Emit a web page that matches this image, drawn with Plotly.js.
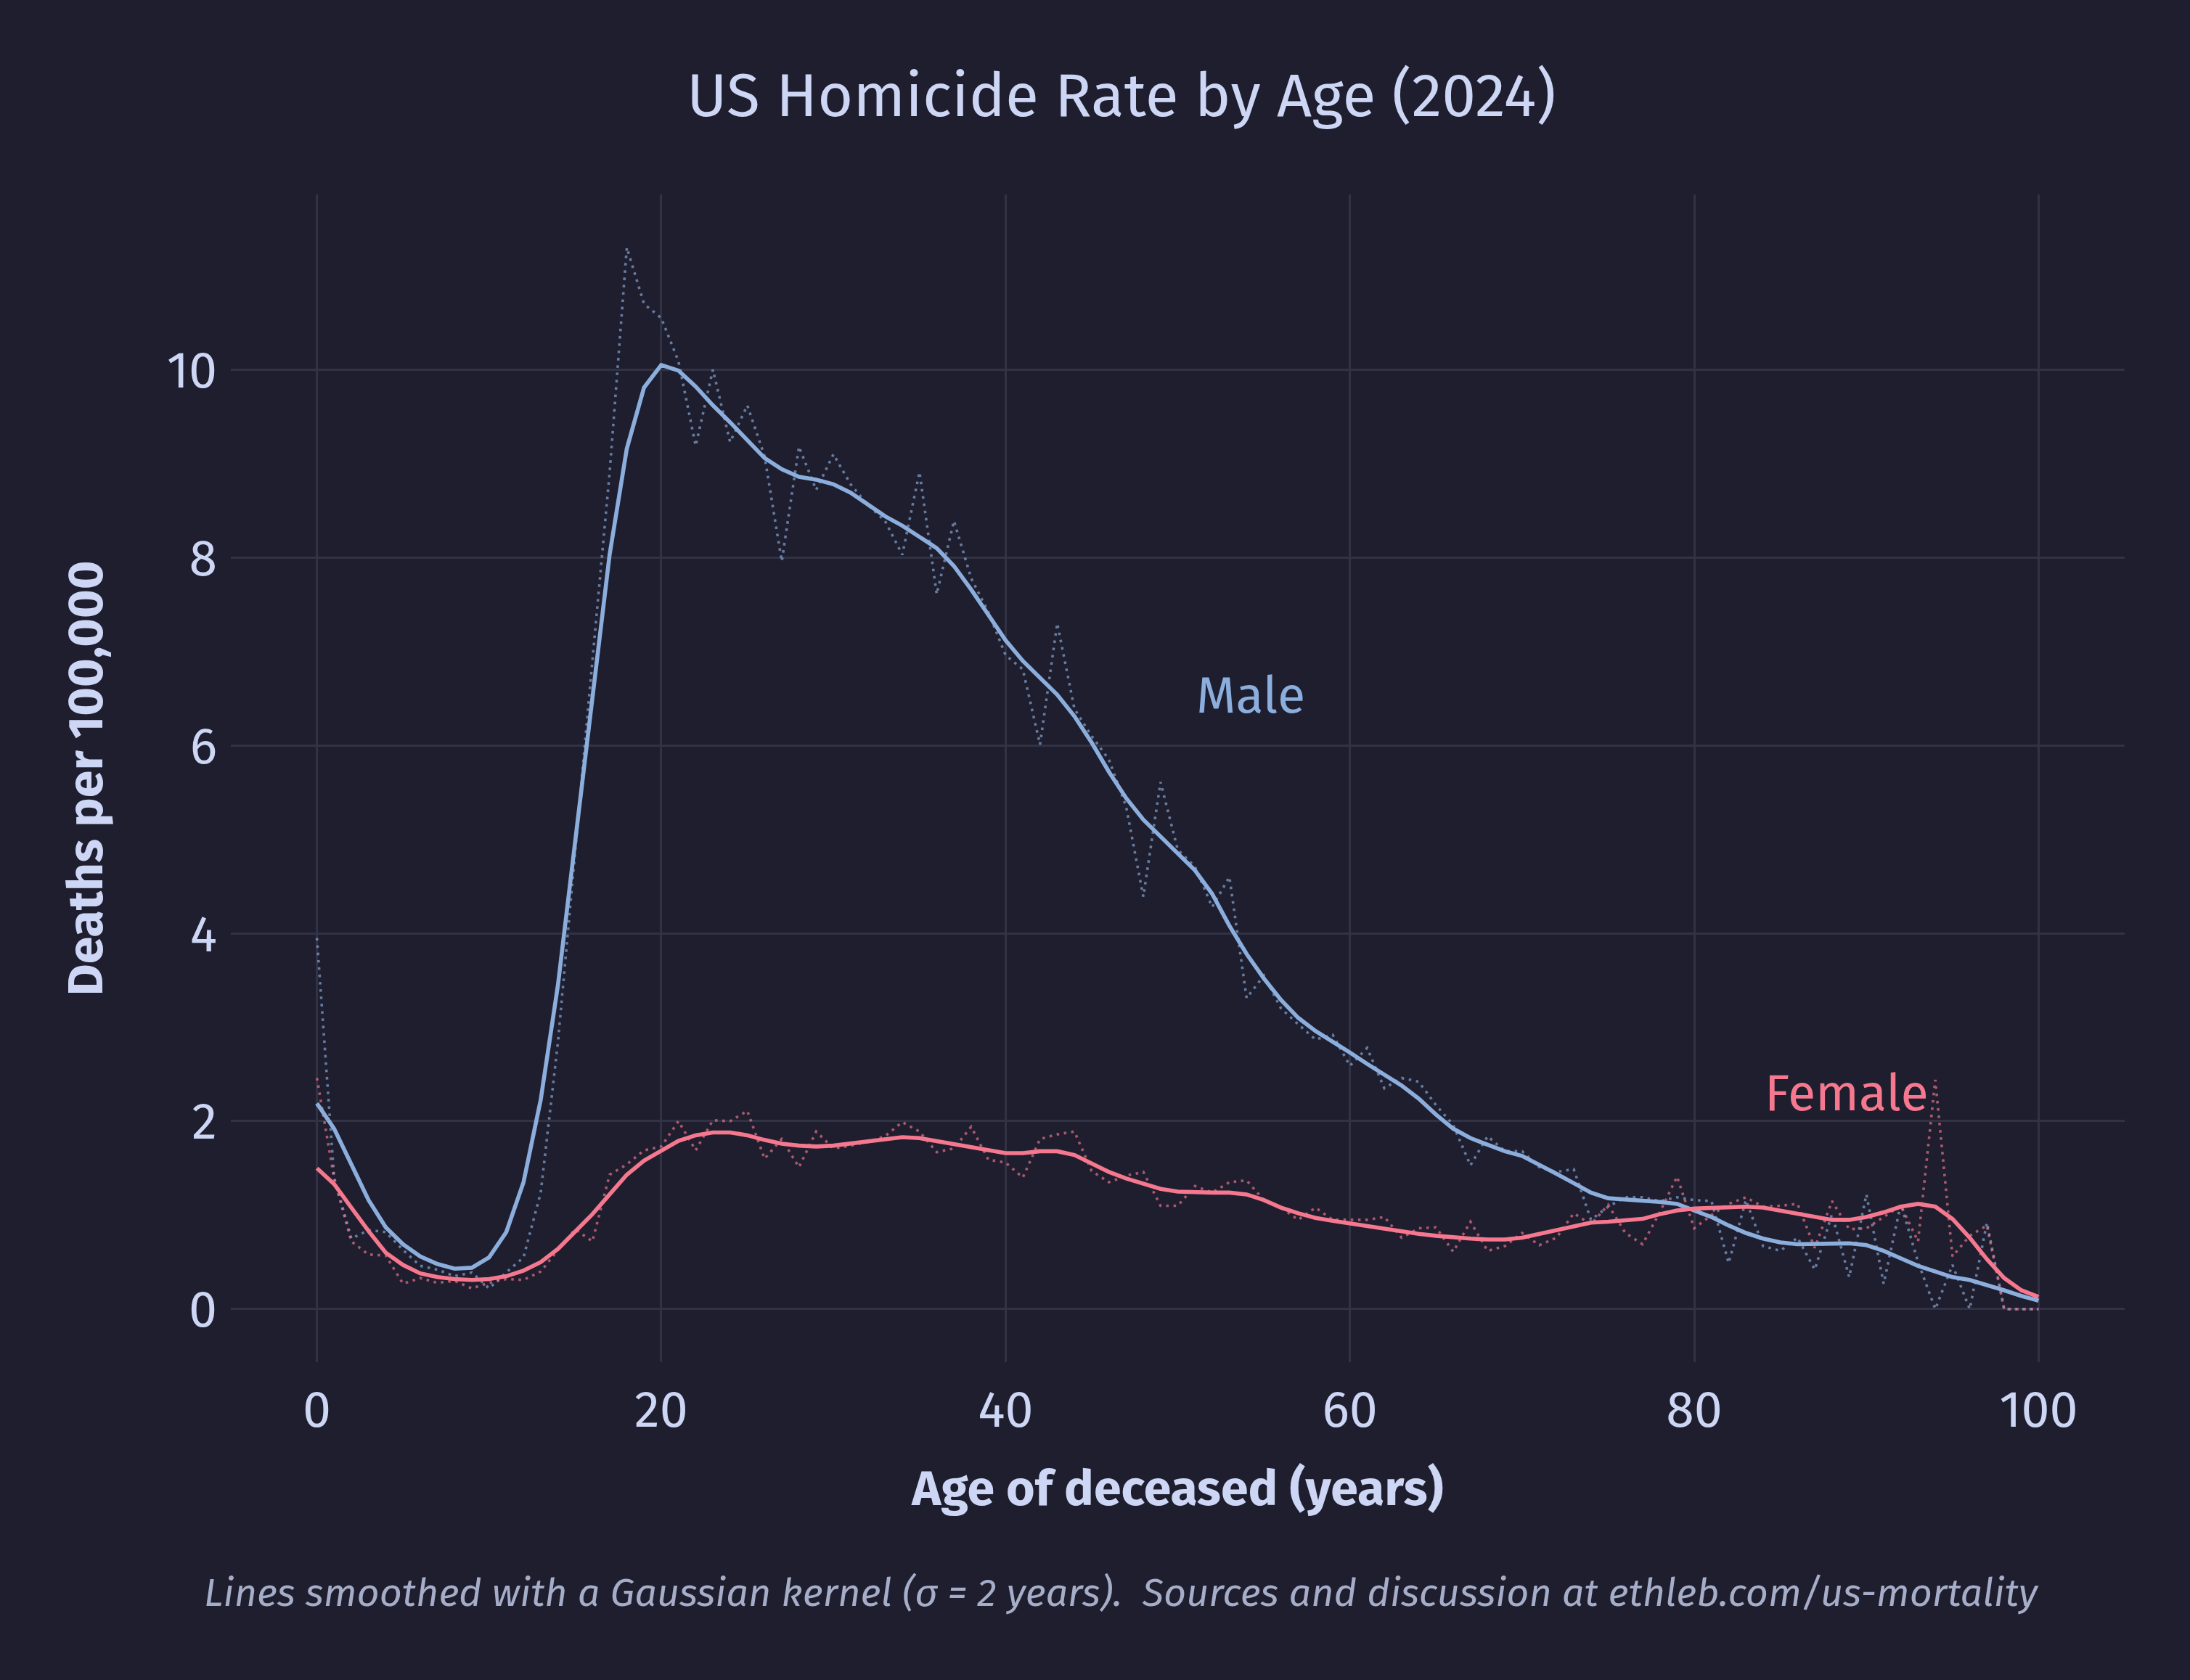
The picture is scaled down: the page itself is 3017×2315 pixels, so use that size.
<!DOCTYPE html>
<html>
<head>
<meta charset="utf-8">
<script src="https://cdn.plot.ly/plotly-3.0.1.min.js"></script>
<style>
  html, body { margin: 0; padding: 0; background: #1e1e2e; }
  #chart { width: 3017px; height: 2315px; }
</style>
</head>
<body>
<div id="chart"></div>
<script>
const ages = [0,1,2,3,4,5,6,7,8,9,10,11,12,13,14,15,16,17,18,19,20,21,22,23,24,25,26,27,28,29,30,31,32,33,34,35,36,37,38,39,40,41,42,43,44,45,46,47,48,49,50,51,52,53,54,55,56,57,58,59,60,61,62,63,64,65,66,67,68,69,70,71,72,73,74,75,76,77,78,79,80,81,82,83,84,85,86,87,88,89,90,91,92,93,94,95,96,97,98,99,100];

const maleRaw = [3.95,1.4,0.75,0.84,0.82,0.63,0.46,0.42,0.35,0.39,0.22,0.39,0.55,1.24,2.84,4.9,6.9,8.9,11.3,10.7,10.55,10.09,9.19,10.0,9.23,9.62,9.08,7.96,9.18,8.72,9.1,8.78,8.56,8.39,8.03,8.91,7.61,8.39,7.78,7.42,6.96,6.81,6.01,7.3,6.39,6.1,5.85,5.35,4.39,5.61,4.89,4.71,4.28,4.6,3.31,3.55,3.2,3.03,2.87,2.92,2.59,2.78,2.35,2.46,2.42,2.17,1.96,1.53,1.84,1.68,1.68,1.51,1.46,1.49,0.95,1.09,1.19,1.19,1.15,1.19,1.16,1.15,0.49,1.16,0.67,0.62,0.76,0.42,1.01,0.34,1.22,0.27,1.12,0.5,0.0,0.47,0.0,0.92,0,0,0];

const maleSmooth = [2.19,1.92,1.54,1.16,0.87,0.69,0.56,0.48,0.43,0.44,0.55,0.82,1.35,2.23,3.45,4.98,6.5,8.03,9.16,9.81,10.05,9.99,9.82,9.62,9.44,9.25,9.06,8.94,8.86,8.83,8.78,8.69,8.56,8.44,8.34,8.22,8.1,7.91,7.66,7.39,7.12,6.9,6.72,6.54,6.31,6.03,5.72,5.44,5.21,5.03,4.86,4.67,4.42,4.08,3.78,3.52,3.29,3.1,2.96,2.85,2.73,2.61,2.5,2.38,2.24,2.07,1.92,1.82,1.75,1.68,1.63,1.54,1.44,1.34,1.24,1.18,1.17,1.16,1.14,1.12,1.05,0.98,0.89,0.81,0.75,0.71,0.69,0.69,0.70,0.70,0.68,0.62,0.54,0.46,0.40,0.34,0.31,0.26,0.20,0.14,0.09];

const femaleRaw = [2.46,1.39,0.72,0.58,0.57,0.27,0.33,0.28,0.3,0.22,0.28,0.32,0.31,0.40,0.63,0.85,0.72,1.43,1.54,1.69,1.73,2.0,1.69,2.01,2.0,2.11,1.6,1.81,1.51,1.89,1.71,1.74,1.78,1.84,1.99,1.89,1.67,1.71,1.94,1.59,1.56,1.4,1.81,1.86,1.89,1.47,1.35,1.42,1.46,1.1,1.1,1.31,1.24,1.35,1.37,1.16,1.08,0.95,1.08,0.95,0.95,0.95,0.98,0.76,0.86,0.87,0.61,0.93,0.62,0.67,0.81,0.68,0.76,1.02,0.9,1.11,0.81,0.69,1.03,1.41,0.86,1.0,1.12,1.19,1.09,1.1,1.12,0.65,1.15,0.85,0.86,0.98,1.1,0.72,2.44,0.56,0.78,0.89,0,0,0];

const femaleSmooth = [1.50,1.33,1.08,0.83,0.60,0.47,0.38,0.34,0.32,0.31,0.32,0.35,0.41,0.50,0.64,0.82,1.01,1.22,1.43,1.58,1.69,1.79,1.85,1.88,1.88,1.85,1.80,1.76,1.74,1.73,1.74,1.76,1.79,1.81,1.83,1.82,1.79,1.76,1.72,1.69,1.66,1.66,1.68,1.68,1.64,1.55,1.46,1.39,1.33,1.28,1.25,1.24,1.24,1.24,1.22,1.16,1.08,1.02,0.97,0.94,0.91,0.88,0.85,0.82,0.80,0.78,0.76,0.75,0.74,0.74,0.76,0.80,0.84,0.89,0.92,0.93,0.94,0.96,1.01,1.05,1.07,1.08,1.09,1.09,1.08,1.05,1.01,0.98,0.95,0.95,0.98,1.03,1.09,1.12,1.09,0.96,0.76,0.53,0.33,0.20,0.13];

const xTicks = [0, 20, 40, 60, 80, 100];
const yTicks = [0, 2, 4, 6, 8, 10];
const seriesLabels = ["Male", "Female"];

const MALE = "#8caedd";
const FEMALE = "#f5788f";
const TEXT = "#cdd6f4";
const SUB = "#a6adc8";
const BG = "#1e1e2e";
const GRID = "#313244";
const FONT = "'Fira Sans', 'Noto Sans', 'Open Sans', sans-serif";

const traces = [
  {x: ages, y: maleRaw, type: "scatter", mode: "lines", name: "Male (raw)",
   line: {color: MALE, width: 3.6, dash: "3.6px,6.5px"}, opacity: 0.65, hoverinfo: "skip"},
  {x: ages, y: femaleRaw, type: "scatter", mode: "lines", name: "Female (raw)",
   line: {color: FEMALE, width: 3.6, dash: "3.6px,6.5px"}, opacity: 0.65, hoverinfo: "skip"},
  {x: ages, y: maleSmooth, type: "scatter", mode: "lines", name: "Male",
   line: {color: MALE, width: 5.6}},
  {x: ages, y: femaleSmooth, type: "scatter", mode: "lines", name: "Female",
   line: {color: FEMALE, width: 5.6}}
];

const layout = {
  width: 3017, height: 2315,
  paper_bgcolor: BG, plot_bgcolor: BG,
  margin: {l: 318, r: 90, t: 268, b: 438, pad: 0},
  showlegend: false,
  hovermode: false,
  font: {family: FONT, color: TEXT, size: 70},
  title: {
    text: "US Homicide Rate by Age (2024)",
    font: {family: FONT, size: 84, color: TEXT},
    x: 0.512, xref: "container", xanchor: "center",
    y: 1 - 131/2315, yref: "container", yanchor: "middle"
  },
  xaxis: {
    range: [-5, 105],
    tickvals: xTicks,
    ticktext: xTicks.map(String),
    showgrid: true, gridcolor: GRID, gridwidth: 3,
    zeroline: false, showline: false, ticks: "",
    tickfont: {family: FONT, size: 70, color: TEXT},
    ticklabelstandoff: 18,
    title: {text: "<b>Age of deceased (years)</b>", font: {family: FONT, size: 68, color: TEXT}, standoff: 42}
  },
  yaxis: {
    range: [-0.565, 11.865],
    tickvals: yTicks,
    ticktext: yTicks.map(String),
    showgrid: true, gridcolor: GRID, gridwidth: 3,
    zeroline: false, showline: false, ticks: "",
    tickfont: {family: FONT, size: 70, color: TEXT},
    ticklabelstandoff: 18,
    title: {text: "<b>Deaths per 100,000</b>", font: {family: FONT, size: 68, color: TEXT}, standoff: 65}
  },
  annotations: [
    {x: 51.0, y: 6.53, xref: "x", yref: "y", text: seriesLabels[0], showarrow: false,
     xanchor: "left", yanchor: "middle", font: {family: FONT, size: 70, color: MALE}},
    {x: 84.0, y: 2.29, xref: "x", yref: "y", text: seriesLabels[1], showarrow: false,
     xanchor: "left", yanchor: "middle", font: {family: FONT, size: 70, color: FEMALE}},
    {x: (1545 - 318) / (3017 - 318 - 90), y: (1877 - 2195) / (1877 - 268), xref: "paper", yref: "paper", showarrow: false,
     text: "<i>Lines smoothed with a Gaussian kernel (σ = 2 years).  Sources and discussion at ethleb.com/us-mortality</i>",
     xanchor: "center", yanchor: "middle", font: {family: FONT, size: 54, color: SUB}}
  ]
};

Plotly.newPlot("chart", traces, layout, {staticPlot: true, displayModeBar: false});
</script>
</body>
</html>
